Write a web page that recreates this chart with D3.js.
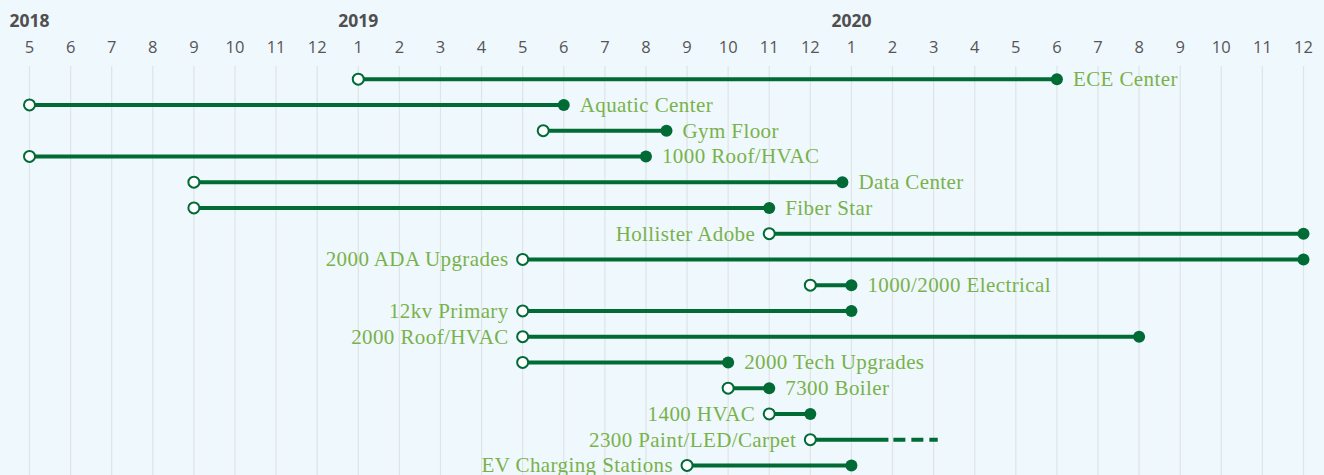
<!DOCTYPE html>
<html>
<head>
<meta charset="utf-8">
<script src="https://cdn.jsdelivr.net/npm/d3@7"></script>
<style>
  html, body { margin: 0; padding: 0; background: #eff8fd; }
  svg { display: block; }
</style>
</head>
<body>
<div id="chart"></div>
<script>
// months counted from 2018-05 (index 0); fractional = mid-month
const projects = ["ECE Center", "Aquatic Center", "Gym Floor", "1000 Roof/HVAC", "Data Center",
  "Fiber Star", "Hollister Adobe", "2000 ADA Upgrades", "1000/2000 Electrical", "12kv Primary",
  "2000 Roof/HVAC", "2000 Tech Upgrades", "7300 Boiler", "1400 HVAC", "2300 Paint/LED/Carpet",
  "EV Charging Stations"];
const startMonths = [8, 0, 12.5, 0, 4, 4, 18, 12, 19, 12, 12, 12, 17, 18, 19, 16];
const endMonths   = [25, 13, 15.5, 15, 19.78, 18, 31, 31, 20, 20, 27, 17, 18, 19, 20.9, 20];
const labelSide   = ["r", "r", "r", "r", "r", "r", "l", "l", "r", "l", "l", "r", "r", "l", "l", "l"];
const hasEndDot   = [1, 1, 1, 1, 1, 1, 1, 1, 1, 1, 1, 1, 1, 1, 0, 1];
// tentative extension for Paint/LED/Carpet
const dashedFrom = 21.02, dashedTo = 22.1, dashedRow = 14;

const monthTicks = [5, 6, 7, 8, 9, 10, 11, 12, 1, 2, 3, 4, 5, 6, 7, 8, 9, 10, 11, 12,
  1, 2, 3, 4, 5, 6, 7, 8, 9, 10, 11, 12];
const yearLabels = ["2018", "2019", "2020"];
const yearMonthIdx = [0, 8, 20];

const width = 1324, height = 475;
const dark = "#006b35", light = "#79b24a";

const x = d3.scaleLinear().domain([0, 31]).range([29.5, 1303.5]);
const y = d3.scaleBand().domain(d3.range(projects.length)).range([66.3, 478.3]);

const svg = d3.select("#chart").append("svg")
    .attr("width", width).attr("height", height);

// grid lines
svg.append("g").selectAll("line")
  .data(monthTicks)
  .join("line")
    .attr("x1", (d, i) => x(i)).attr("x2", (d, i) => x(i))
    .attr("y1", 66).attr("y2", height)
    .attr("stroke", "#dfe4e6").attr("stroke-width", 1.2);

// month labels
svg.append("g").selectAll("text")
  .data(monthTicks)
  .join("text")
    .attr("x", (d, i) => x(i)).attr("y", 53)
    .attr("text-anchor", "middle")
    .style("font-family", "'Open Sans', sans-serif")
    .style("font-size", "16.5px")
    .attr("fill", "#555")
    .text(d => d);

// year labels
svg.append("g").selectAll("text")
  .data(yearLabels)
  .join("text")
    .attr("x", (d, i) => x(yearMonthIdx[i])).attr("y", 27)
    .attr("text-anchor", "middle")
    .style("font-family", "'Open Sans', sans-serif")
    .style("font-size", "17.5px")
    .style("font-weight", "bold")
    .attr("fill", "#4f4f4f")
    .text(d => d);

const rows = svg.append("g").selectAll("g")
  .data(projects)
  .join("g")
    .attr("transform", (d, i) => `translate(0, ${y(i) + y.bandwidth() / 2})`);

rows.append("line")
    .attr("x1", (d, i) => x(startMonths[i]))
    .attr("x2", (d, i) => x(endMonths[i]))
    .attr("stroke", dark).attr("stroke-width", 4);

// dashed extension
svg.append("line")
    .attr("x1", x(dashedFrom)).attr("x2", x(dashedTo))
    .attr("y1", y(dashedRow) + y.bandwidth() / 2)
    .attr("y2", y(dashedRow) + y.bandwidth() / 2)
    .attr("stroke", dark).attr("stroke-width", 4)
    .attr("stroke-dasharray", "12,6");

rows.filter((d, i) => hasEndDot[i]).append("circle")
    .attr("cx", (d) => x(endMonths[projects.indexOf(d)]))
    .attr("r", 6)
    .attr("fill", dark);

rows.append("circle")
    .attr("cx", (d, i) => x(startMonths[i]))
    .attr("r", 5.5)
    .attr("fill", "#fff")
    .attr("stroke", dark).attr("stroke-width", 2);

rows.append("text")
    .attr("x", (d, i) => labelSide[i] === "r" ? x(endMonths[i]) + 16 : x(startMonths[i]) - 14)
    .attr("dy", "0.33em")
    .attr("text-anchor", (d, i) => labelSide[i] === "r" ? "start" : "end")
    .style("font-family", "'Liberation Serif', serif")
    .style("font-size", "21px")
    .style("letter-spacing", "0.4px")
    .attr("fill", light)
    .text(d => d);
</script>
</body>
</html>
